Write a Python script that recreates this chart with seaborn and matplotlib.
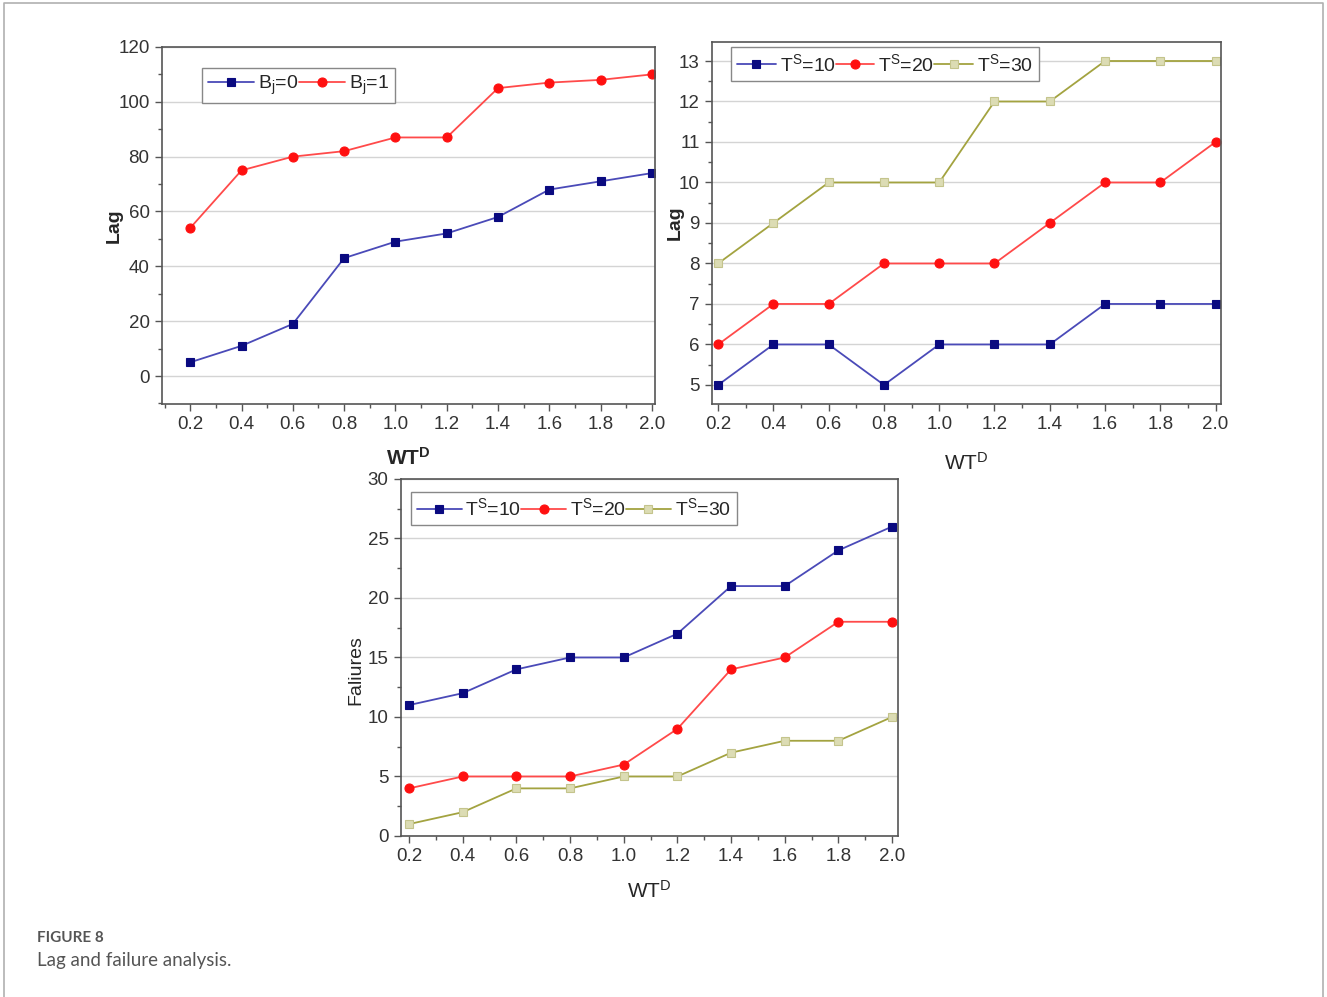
import matplotlib
matplotlib.use("Agg")
import matplotlib.pyplot as plt
from matplotlib.ticker import MultipleLocator, FormatStrFormatter
from matplotlib.lines import Line2D
import pandas as pd
import seaborn as sns

# --- data --------------------------------------------------------------------
wt = [0.2, 0.4, 0.6, 0.8, 1.0, 1.2, 1.4, 1.6, 1.8, 2.0]

lag_bj0 = [5, 11, 19, 43, 49, 52, 58, 68, 71, 74]
lag_bj1 = [54, 75, 80, 82, 87, 87, 105, 107, 108, 110]

lag_ts10 = [5, 6, 6, 5, 6, 6, 6, 7, 7, 7]
lag_ts20 = [6, 7, 7, 8, 8, 8, 9, 10, 10, 11]
lag_ts30 = [8, 9, 10, 10, 10, 12, 12, 13, 13, 13]

fail_ts10 = [11, 12, 14, 15, 15, 17, 21, 21, 24, 26]
fail_ts20 = [4, 5, 5, 5, 6, 9, 14, 15, 18, 18]
fail_ts30 = [1, 2, 4, 4, 5, 5, 7, 8, 8, 10]

bj_labels = ["B$_\\mathregular{j}$=0", "B$_\\mathregular{j}$=1"]
ts_labels = ["T$^\\mathregular{S}$=10", "T$^\\mathregular{S}$=20", "T$^\\mathregular{S}$=30"]

# line colour, marker face, marker edge, marker
blue = dict(color="#4a4ab8", marker="s", mfc="#0a0a80", mec="#0a0a80", ms=6)
red = dict(color="#ff4a4a", marker="o", mfc="#ff1010", mec="#ff1010", ms=6.5)
olive = dict(color="#a3a340", marker="s", mfc="#dcdcb4", mec="#c4c48c", ms=6)

sns.set_theme(style="ticks")
plt.rcParams["font.family"] = ["Liberation Sans", "DejaVu Sans"]
plt.rcParams["font.sans-serif"] = ["Liberation Sans", "DejaVu Sans"]
plt.rcParams["mathtext.fontset"] = "custom"
plt.rcParams["mathtext.rm"] = "Liberation Sans"
plt.rcParams["mathtext.bf"] = "Liberation Sans:bold"
plt.rcParams["axes.edgecolor"] = "#555555"
plt.rcParams["xtick.color"] = "#555555"
plt.rcParams["ytick.color"] = "#555555"
plt.rcParams["xtick.labelcolor"] = "#333333"
plt.rcParams["ytick.labelcolor"] = "#333333"

fig = plt.figure(figsize=(13.27, 9.97), dpi=100)

ax1 = fig.add_axes([0.1221, 0.5948, 0.3715, 0.3581])
ax2 = fig.add_axes([0.5366, 0.5948, 0.3836, 0.3631])
ax3 = fig.add_axes([0.3022, 0.1615, 0.3745, 0.3581])


def draw(ax, series, labels, styles):
    for ys, lab, st in zip(series, labels, styles):
        df = pd.DataFrame({"wt": wt, "y": ys})
        sns.lineplot(data=df, x="wt", y="y", ax=ax, label=lab, lw=1.3,
                     color=st["color"], marker=st["marker"],
                     markerfacecolor=st["mfc"], markeredgecolor=st["mec"],
                     markersize=st["ms"], markeredgewidth=0.8)


def style(ax, xlim, ylim, ymaj, ymin):
    ax.set_xlim(*xlim)
    ax.set_ylim(*ylim)
    ax.xaxis.set_major_locator(MultipleLocator(0.2))
    ax.xaxis.set_minor_locator(MultipleLocator(0.1))
    ax.xaxis.set_major_formatter(FormatStrFormatter("%.1f"))
    ax.yaxis.set_major_locator(MultipleLocator(ymaj))
    ax.yaxis.set_minor_locator(MultipleLocator(ymin))
    ax.tick_params(which="major", length=5, width=1, labelsize=13.5, pad=4)
    ax.tick_params(which="minor", length=3, width=1)
    ax.grid(axis="y", which="major", color="#d4d4d4", lw=1)
    ax.set_axisbelow(True)
    for sp in ax.spines.values():
        sp.set_linewidth(1.2)


def legend(ax, ncol, anchor, hl):
    h, l = ax.get_legend_handles_labels()
    lg = ax.legend(h, l, ncol=ncol, loc="upper left", bbox_to_anchor=anchor,
                   borderaxespad=0, fontsize=14, handlelength=hl,
                   handletextpad=0.2, columnspacing=0.0, borderpad=0.3,
                   fancybox=False, framealpha=1, edgecolor="#888888")
    lg.get_frame().set_linewidth(1.0)


# --- panel 1 ------------------------------------------------------------------
draw(ax1, [lag_bj0, lag_bj1], bj_labels, [blue, red])
style(ax1, (0.09, 2.012), (-10.2, 120), 20, 10)
ax1.yaxis.set_major_locator(plt.FixedLocator([0, 20, 40, 60, 80, 100, 120]))
legend(ax1, 2, (0.081, 0.941), 2.4)
ax1.set_xlabel("$\\mathbf{WT^{D}}$", fontsize=15)
ax1.set_ylabel("Lag", fontsize=14, fontweight="bold")
ax1.xaxis.set_label_coords(0.5, -0.12)
ax1.yaxis.set_label_coords(-0.079, 0.5)

# --- panel 2 ------------------------------------------------------------------
draw(ax2, [lag_ts10, lag_ts20, lag_ts30], ts_labels, [blue, red, olive])
style(ax2, (0.178, 2.02), (4.53, 13.47), 1, 0.5)
legend(ax2, 3, (0.037, 0.986), 2.0)
ax2.set_xlabel("WT$^\\mathregular{D}$", fontsize=15)
ax2.set_ylabel("Lag", fontsize=14, fontweight="bold")
ax2.xaxis.set_label_coords(0.5, -0.132)
ax2.yaxis.set_label_coords(-0.056, 0.5)

# --- panel 3 ------------------------------------------------------------------
draw(ax3, [fail_ts10, fail_ts20, fail_ts30], ts_labels, [blue, red, olive])
style(ax3, (0.17, 2.022), (0, 30), 5, 2.5)
legend(ax3, 3, (0.02, 0.964), 2.3)
ax3.set_xlabel("WT$^\\mathregular{D}$", fontsize=15)
ax3.set_ylabel("Faliures", fontsize=14)
ax3.xaxis.set_label_coords(0.5, -0.123)
ax3.yaxis.set_label_coords(-0.073, 0.465)

# --- frame and caption ---------------------------------------------------------
fx = [0.003, 0.003, 0.997, 0.997]
fy = [0.0, 0.997, 0.997, 0.0]
fig.add_artist(Line2D(fx, fy, color="#b0b0b0", lw=1.2, transform=fig.transFigure))

fig.text(0.028, 0.0555, "FIGURE 8", fontsize=11, fontweight="bold",
         color="#555555", family=["Lato", "DejaVu Sans"])
fig.text(0.028, 0.031, "Lag and failure analysis.", fontsize=13.5,
         color="#555555", family=["Lato", "DejaVu Sans"])

fig.savefig("out.png", dpi=100)
